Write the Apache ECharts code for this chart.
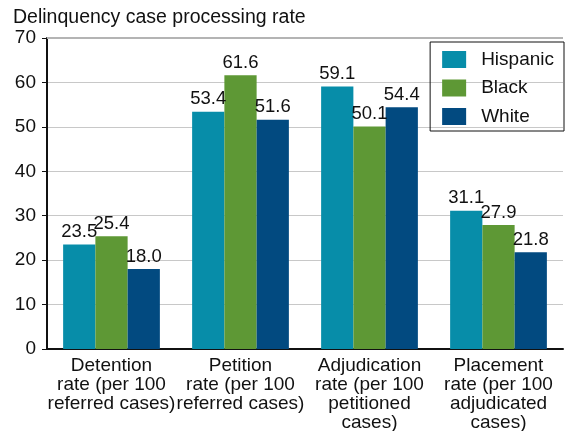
<!DOCTYPE html>
<html>
<head>
  <meta charset="utf-8">
  <script src="https://cdn.jsdelivr.net/npm/echarts@6/dist/echarts.min.js"></script>
  <style>
    html, body { margin: 0; padding: 0; background: #fff; }
    #chart { width: 565px; height: 431px; }
  </style>
</head>
<body>
  <div id="chart"></div>
  <script>
    // data
    var categories = [
      'Detention\nrate (per 100\nreferred cases)',
      'Petition\nrate (per 100\nreferred cases)',
      'Adjudication\nrate (per 100\npetitioned\ncases)',
      'Placement\nrate (per 100\nadjudicated\ncases)'
    ];
    var hispanic = [23.5, 53.4, 59.1, 31.1];
    var black = [25.4, 61.6, 50.1, 27.9];
    var white = [18.0, 51.6, 54.4, 21.8];
    var yMax = 70;

    var font = 'Liberation Sans, Arial, sans-serif';
    var chart = echarts.init(document.getElementById('chart'));

    function bar(name, data, color) {
      return {
        name: name,
        type: 'bar',
        data: data,
        barGap: 0,
        barCategoryGap: '25%',
        itemStyle: { color: color },
        label: {
          show: true,
          position: 'top',
          distance: 3,
          color: '#111',
          fontSize: 18.5,
          fontFamily: font,
          formatter: function (p) { return p.value.toFixed(1); }
        }
      };
    }

    var s1 = bar('Hispanic', hispanic, '#078da9');
    // the top border line of the plot is a bit heavier in the original
    s1.markLine = {
      silent: true, symbol: 'none', label: { show: false },
      lineStyle: { color: '#b4b4b4', width: 2, type: 'solid' },
      data: [{ yAxis: yMax }]
    };

    chart.setOption({
      animation: false,
      textStyle: { fontFamily: font },
      title: {
        text: 'Delinquency case processing rate',
        left: 8, top: 3,
        textStyle: { fontSize: 19.5, fontWeight: 'normal', color: '#111', fontFamily: font }
      },
      legend: {
        orient: 'vertical',
        right: 1, top: 42,
        padding: [8, 10, 5, 12],
        borderColor: '#111', borderWidth: 1,
        itemWidth: 24, itemHeight: 17, itemGap: 9.5,
        icon: 'rect',
        textStyle: { fontSize: 19, lineHeight: 17, color: '#111', fontFamily: font, padding: [0, 0, 0, 10] },
        data: ['Hispanic', 'Black', 'White']
      },
      grid: { left: 47, right: 2, top: 38, bottom: 82, outerBoundsMode: 'none', containLabel: false },
      xAxis: {
        type: 'category',
        data: categories,
        axisLine: { lineStyle: { color: '#111', width: 2 } },
        axisTick: { show: false },
        axisLabel: { fontSize: 19, color: '#111', lineHeight: 19, margin: 7, interval: 0, fontFamily: font }
      },
      yAxis: {
        type: 'value',
        min: 0, max: yMax, interval: 10,
        axisLine: { show: true, lineStyle: { color: '#111', width: 2 } },
        axisTick: { show: true, length: 5, lineStyle: { color: '#111' } },
        axisLabel: { fontSize: 19, color: '#111', margin: 11, fontFamily: font },
        splitLine: { lineStyle: { color: '#c8c8c8', width: 1 } }
      },
      series: [
        s1,
        bar('Black', black, '#5e9835'),
        bar('White', white, '#024a80')
      ]
    });
  </script>
</body>
</html>
